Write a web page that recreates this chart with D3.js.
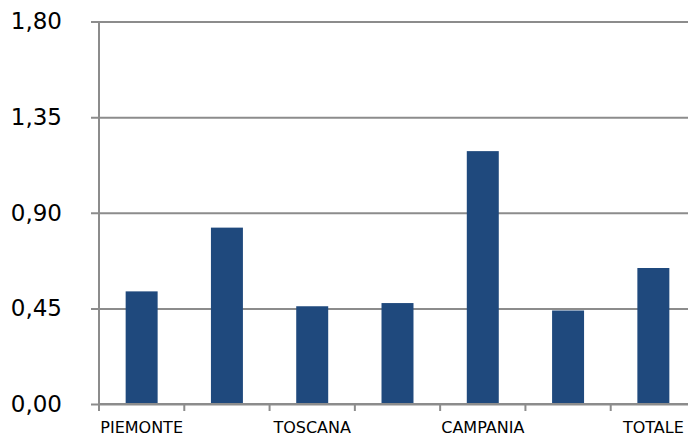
<!DOCTYPE html>
<html>
<head>
<meta charset="utf-8">
<script src="https://cdn.jsdelivr.net/npm/d3@7"></script>
<style>
  html, body { margin: 0; padding: 0; background: #fff; }
  svg { display: block; }
</style>
</head>
<body>
<div id="chart"></div>
<script>
// Seven regional values; only every other category carries a visible label
const categories = ["PIEMONTE", "", "TOSCANA", "", "CAMPANIA", "", "TOTALE"];
const values = [0.53, 0.83, 0.46, 0.475, 1.19, 0.44, 0.64];
const yTicks = [0, 0.45, 0.90, 1.35, 1.80];

const width = 688, height = 436;
const margin = { top: 21.5, right: -8, bottom: 32, left: 99 };

const svg = d3.select("#chart").append("svg")
  .attr("width", width).attr("height", height);

const x = d3.scaleBand()
  .domain(d3.range(categories.length))
  .range([margin.left, width - margin.right])
  .paddingInner(0.625)
  .paddingOuter(0.3125);

const y = d3.scaleLinear()
  .domain([0, 1.80])
  .range([height - margin.bottom, margin.top]);

const gridColor = "#8c8c8c";
const fmt = v => d3.format(".2f")(v).replace(".", ",");

// Horizontal gridlines with tick stubs on the left of the axis
const yAxis = d3.axisLeft(y)
  .tickValues(yTicks)
  .tickSize(-(width - margin.left))
  .tickPadding(37)
  .tickFormat(fmt);

const gy = svg.append("g")
  .attr("transform", `translate(${margin.left},0)`)
  .call(yAxis);
gy.select(".domain").remove();
gy.selectAll(".tick line")
  .attr("x1", -8)
  .attr("stroke", gridColor)
  .attr("stroke-width", 2);
gy.selectAll(".tick text")
  .attr("fill", "#000")
  .style("font-family", "'DejaVu Sans', sans-serif")
  .style("font-size", "23px");

// Bars
svg.append("g").selectAll("rect")
  .data(values)
  .join("rect")
  .attr("x", (d, i) => x(i))
  .attr("width", x.bandwidth())
  .attr("y", d => y(d))
  .attr("height", d => y(0) - y(d))
  .attr("fill", "#1f497d");

// Vertical axis line
svg.append("line")
  .attr("x1", margin.left).attr("x2", margin.left)
  .attr("y1", y(1.80)).attr("y2", y(0) + 7)
  .attr("stroke", gridColor).attr("stroke-width", 2);

// Category axis: baseline, boundary ticks and labels
const step = x.step();
const x0 = margin.left;
const boundaries = d3.range(categories.length + 1).map(i => x0 + i * step);

svg.append("line")
  .attr("x1", x0).attr("x2", width)
  .attr("y1", y(0)).attr("y2", y(0))
  .attr("stroke", gridColor).attr("stroke-width", 2);

svg.append("g").selectAll("line")
  .data(boundaries)
  .join("line")
  .attr("x1", d => d).attr("x2", d => d)
  .attr("y1", y(0)).attr("y2", y(0) + 7)
  .attr("stroke", gridColor).attr("stroke-width", 2);

svg.append("g").selectAll("text")
  .data(categories)
  .join("text")
  .attr("x", (d, i) => x(i) + x.bandwidth() / 2)
  .attr("y", y(0) + 29)
  .attr("text-anchor", "middle")
  .attr("fill", "#000")
  .style("font-family", "'DejaVu Sans', sans-serif")
  .style("font-size", "16px")
  .text(d => d);
</script>
</body>
</html>
